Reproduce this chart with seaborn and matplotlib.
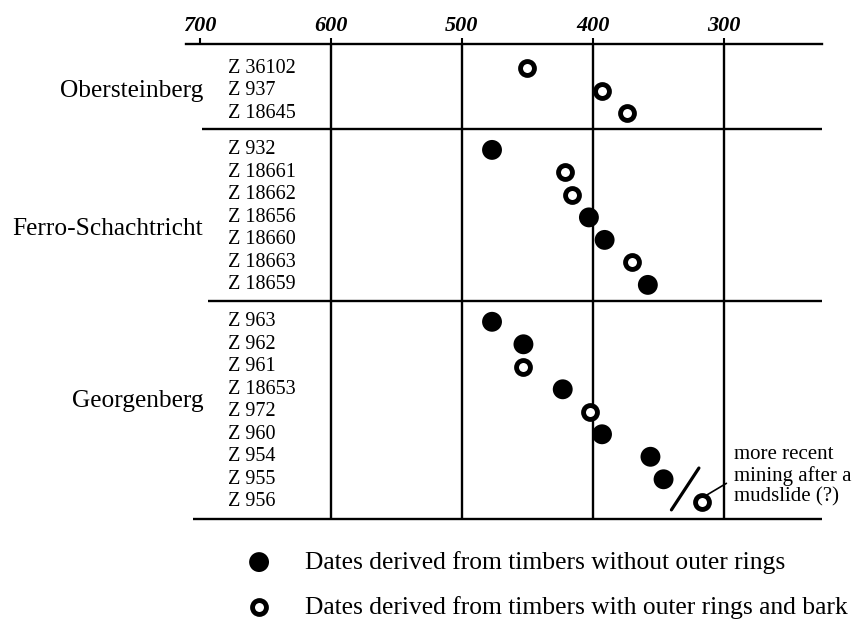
import matplotlib
matplotlib.use("Agg")
import matplotlib.pyplot as plt
import seaborn as sns
import pandas as pd

# ---------------- data ----------------
groups = ["Obersteinberg", "Ferro-Schachtricht", "Georgenberg"]

ober_labels = ["Z 36102", "Z 937", "Z 18645"]
ober_dates = [450, 393, 374]
ober_bark = [True, True, True]

ferro_labels = ["Z 932", "Z 18661", "Z 18662", "Z 18656", "Z 18660", "Z 18663", "Z 18659"]
ferro_dates = [477, 421, 416, 403, 391, 370, 358]
ferro_bark = [False, True, True, False, False, True, False]

georg_labels = ["Z 963", "Z 962", "Z 961", "Z 18653", "Z 972", "Z 960", "Z 954", "Z 955", "Z 956"]
georg_dates = [477, 453, 453, 423, 402, 393, 356, 346, 317]
georg_bark = [False, False, True, False, True, False, False, False, True]

tick_values = [700, 600, 500, 400, 300]
grid_values = [600, 500, 400, 300]
legend_labels = ["Dates derived from timbers without outer rings",
                 "Dates derived from timbers with outer rings and bark"]
note_text = "more recent\nmining after a\nmudslide (?)"

# ---------------- table ----------------
GAP = 0.64
rows = []
idx = 0
group_spans = []
for gi, (g, labs, dates, bark) in enumerate(zip(
        groups,
        [ober_labels, ferro_labels, georg_labels],
        [ober_dates, ferro_dates, georg_dates],
        [ober_bark, ferro_bark, georg_bark])):
    first = idx + gi * GAP
    for lab, d, b in zip(labs, dates, bark):
        rows.append(dict(group=g, label=lab, date=d, bark=b, pos=idx + gi * GAP))
        idx += 1
    last = (idx - 1) + gi * GAP
    group_spans.append((first, last))
df = pd.DataFrame(rows)

# ---------------- figure ----------------
sns.set_theme(style="white")
plt.rcParams["font.family"] = ["Liberation Serif", "DejaVu Serif"]

fig = plt.figure(figsize=(8.6, 6.24), dpi=100)
ax = fig.add_axes([186 / 860, 1 - 520 / 624, (822 - 186) / 860, 476 / 624])
XL, XR = 710.7, 225
LW = 1.7

# points
filled = df[~df["bark"]]
opened = df[df["bark"]]
sns.scatterplot(data=filled, x="date", y="pos", ax=ax, color="black",
                marker="o", s=205, edgecolor="none", linewidth=0, zorder=5,
                legend=False)
sns.scatterplot(data=opened, x="date", y="pos", ax=ax, facecolor="white",
                marker="o", s=100, edgecolor="black", linewidth=3.5, zorder=5,
                legend=False)

ax.set_xlim(XL, XR)
ax.set_ylim(20.09, -1.067)
for s in ["left", "right", "bottom"]:
    ax.spines[s].set_visible(False)
ax.spines["top"].set_linewidth(LW)
ax.spines["top"].set_color("black")

ax.xaxis.tick_top()
ax.set_xticks(tick_values)
ax.set_xticklabels([str(v) for v in tick_values], fontsize=16,
                   fontweight="bold", fontstyle="italic")
ax.tick_params(axis="x", direction="out", length=4, width=1.5, pad=1.5,
               colors="black", top=True, bottom=False)
ax.set_yticks([])
ax.set_xlabel("")
ax.set_ylabel("")

# vertical grid lines
bottom_y = group_spans[-1][1] + 0.75
ax.vlines(grid_values, -1.067, bottom_y, color="black", lw=LW, clip_on=False)

# separators and bottom line
sep_starts = [698.5, 694]
for (first, last), xs in zip(group_spans[:-1], sep_starts):
    ax.hlines(last + 0.7, xs, XR, color="black", lw=LW)
ax.hlines(bottom_y, 705, XR, color="black", lw=LW, clip_on=False)

# row labels
for _, r in df.iterrows():
    ax.text(678.6, r["pos"], r["label"], ha="left", va="center", fontsize=14.5,
            color="black")

# group labels
label_rows = [1, 3.5, 3.5]
for g, (first, last), lr in zip(groups, group_spans, label_rows):
    ax.text(697.5, first + lr, g, ha="right", va="center", fontsize=18.3,
            color="black")

# annotation: slash, leader and note
ax.plot([340, 319], [19.64, 17.78], color="black", lw=2.3, clip_on=False)
ax.plot([313, 298], [18.98, 18.46], color="black", lw=1.2, clip_on=False)
ax.text(292.4, 18.13, note_text, ha="left", va="center", fontsize=15,
        linespacing=1.1, color="black", clip_on=False)

# legend (manual)
leg_y = [21.96, 23.96]
ax.scatter([654.9], [leg_y[0]], s=205, color="black", edgecolor="none",
           clip_on=False, zorder=5)
ax.scatter([654.9], [leg_y[1]], s=100, facecolor="white", edgecolor="black",
           linewidth=3.5, clip_on=False, zorder=5)
for y, t in zip(leg_y, legend_labels):
    ax.text(619.8, y, t, ha="left", va="center", fontsize=18.35, color="black",
            clip_on=False)

fig.savefig("out.png", dpi=100, facecolor="white")
